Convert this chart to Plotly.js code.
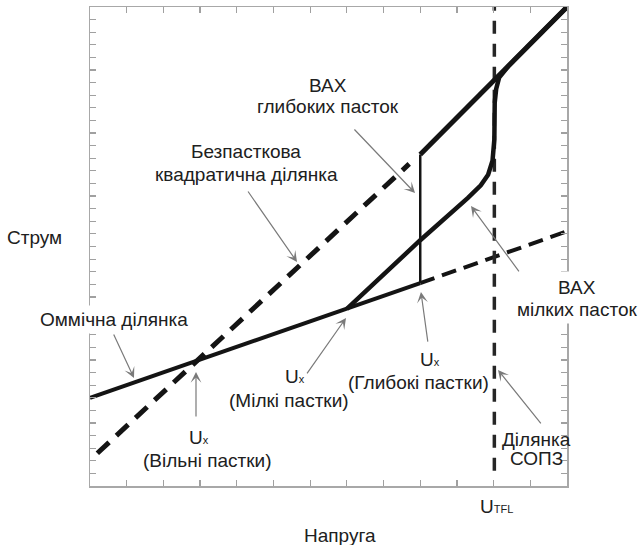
<!DOCTYPE html>
<html>
<head>
<meta charset="utf-8">
<script src="https://cdn.plot.ly/plotly-3.0.1.min.js"></script>
<style>
  html, body { margin: 0; padding: 0; background: #fff; }
  #chart { width: 638px; height: 545px; }
</style>
</head>
<body>
<div id="chart"></div>
<script>
// Schematic current–voltage characteristic (log–log, arbitrary units)

// Ohmic region (solid) and its extrapolation (dashed)
const ohmicX = [0, 7.0, 9.0];
const ohmicY = [7.0, 14.05, 16.1];
const ohmicExtX = [9.0, 13.0];
const ohmicExtY = [16.1, 20.2];

// Trap-free square-law region (dashed)
const trapFreeX = [0.2, 8.7];
const trapFreeY = [2.6, 25.55];

// Deep-trap characteristic: vertical jump and upper trap-filled branch
const deepJumpX = [9.0, 9.0];
const deepJumpY = [16.1, 26.3];
const deepUpperX = [9.0, 13.0];
const deepUpperY = [26.3, 38.0];

// Shallow-trap characteristic
const shallowX = [7.0, 9.0, 10.3, 10.65, 10.85, 10.97, 11.02, 11.03, 11.07, 11.15, 11.4, 13.0];
const shallowY = [14.05, 19.5, 22.85, 23.85, 24.7, 25.8, 27.5, 30.4, 31.5, 32.4, 33.3, 38.0];

// Trap-filled limit voltage U_TFL (dashed vertical)
const tflX = [11.02, 11.02];
const tflY = [1.2, 38.0];

const ink = '#141414';
const textInk = '#202020';
const arrowInk = '#7a7a7a';
const fontFamily = '"Liberation Sans", Arial, sans-serif';
const fs = 19;

const traces = [
  { x: trapFreeX, y: trapFreeY, mode: 'lines',
    line: { color: ink, width: 5, dash: '16px,10px' } },
  { x: ohmicExtX, y: ohmicExtY, mode: 'lines',
    line: { color: ink, width: 4, dash: '15px,8px' } },
  { x: tflX, y: tflY, mode: 'lines',
    line: { color: '#262626', width: 3.5, dash: '13px,10px' } },
  { x: ohmicX, y: ohmicY, mode: 'lines',
    line: { color: ink, width: 4 } },
  { x: shallowX, y: shallowY, mode: 'lines',
    line: { color: ink, width: 4.5 } },
  { x: deepJumpX, y: deepJumpY, mode: 'lines',
    line: { color: ink, width: 2.5 } },
  { x: deepUpperX, y: deepUpperY, mode: 'lines',
    line: { color: ink, width: 5 } }
];

// Thin pointer arrows: tail (ax, ay) -> tip (x, y), in data units
function pointer(ax, ay, x, y) {
  return {
    x: x, y: y, ax: ax, ay: ay, xref: 'x', yref: 'y', axref: 'x', ayref: 'y',
    text: '', showarrow: true, arrowhead: 3, arrowsize: 1.5, arrowwidth: 1.2,
    arrowcolor: arrowInk, standoff: 0, startstandoff: 0
  };
}

function label(text, x, y, ref, extra) {
  return Object.assign({
    text: text, x: x, y: y, xref: ref, yref: ref, showarrow: false,
    xanchor: 'center', yanchor: 'middle', align: 'center',
    font: { family: fontFamily, size: fs, color: textInk }
  }, extra || {});
}

const small = (s) => '<span style="font-size:11px">' + s + '</span>';
const white = { bgcolor: '#ffffff', borderpad: 3 };

const annotations = [
  pointer(4.279, 23.48, 5.642, 17.77),
  pointer(7.168, 28.40, 8.858, 23.24),
  pointer(0.627, 12.14, 1.199, 8.57),
  pointer(2.889, 5.39, 2.889, 9.04),
  pointer(5.887, 8.81, 6.977, 13.33),
  pointer(9.212, 11.34, 9.02, 15.39),
  pointer(11.72, 16.90, 10.384, 22.21),
  pointer(12.32, 4.84, 11.12, 9.20),

  label('ВАХ', 6.487, 31.81, 'x'),
  label('глибоких пасток', 6.487, 30.07, 'x'),
  label('Безпасткова', 4.252, 26.50, 'x'),
  label('квадратична ділянка', 4.252, 24.75, 'x'),
  label('Оммічна ділянка', 0.654, 13.17, 'x', white),
  label('U' + small('x'), 2.971, 3.81, 'x'),
  label('(Вільні пастки)', 3.189, 2.06, 'x'),
  label('U' + small('x'), 5.587, 8.65, 'x'),
  label('(Мілкі пастки)', 5.424, 6.82, 'x'),
  label('U' + small('x'), 9.267, 10.0, 'x'),
  label('(Глибокі пастки)', 8.94, 8.25, 'x'),
  label('Ділянка', 12.16, 3.65, 'x'),
  label('СОПЗ', 12.16, 2.22, 'x'),
  label('ВАХ', 1.021, 0.4134, 'paper', { bgcolor: '#ffffff', borderpad: 5 }),
  label('мілких пасток', 1.021, 0.3695, 'paper', white),
  label('Струм', -0.1174, 0.5198, 'paper'),
  label('Напруга', 0.5241, -0.1037, 'paper'),
  label('U' + small('TFL'), 0.8522, -0.0438, 'paper')
];

const axisCommon = {
  showgrid: false, zeroline: false, showticklabels: false,
  showline: true, linecolor: '#a8a8a8', linewidth: 1.5, mirror: 'ticks',
  ticks: 'inside', ticklen: 6, tickwidth: 1.2, tickcolor: '#a0a0a0',
  fixedrange: true
};

const layout = {
  width: 638, height: 545,
  margin: { l: 90, r: 71, t: 7, b: 59, pad: 0 },
  paper_bgcolor: '#ffffff', plot_bgcolor: '#ffffff',
  showlegend: false,
  xaxis: Object.assign({}, axisCommon, { range: [0, 13], dtick: 1, tick0: 0 }),
  yaxis: Object.assign({}, axisCommon, { range: [0, 38], dtick: 1, tick0: 0 }),
  annotations: annotations,
  font: { family: fontFamily, size: fs, color: textInk }
};

Plotly.newPlot('chart', traces, layout, { staticPlot: true, displayModeBar: false });
</script>
</body>
</html>
